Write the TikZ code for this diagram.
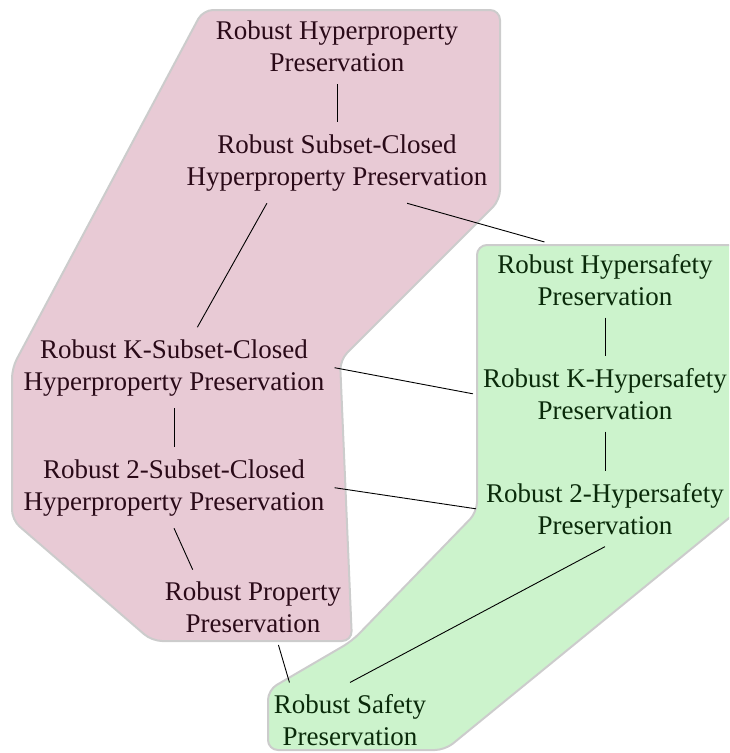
\documentclass[tikz,border=0pt]{standalone}
\usepackage{fontspec}
\setmainfont{Liberation Serif}
\definecolor{pinkfill}{HTML}{E8CAD5}
\definecolor{greenfill}{HTML}{CCF3CC}
\definecolor{hullline}{HTML}{CCCCCC}
\definecolor{pinktext}{HTML}{2A0A18}
\definecolor{greentext}{HTML}{0A2A0A}
\tikzset{
  hull/.style={draw=hullline, line width=2pt, rounded corners=10pt},
  prop/.style={align=center, inner xsep=10pt, inner ysep=12pt,
    font=\fontsize{27}{32}\selectfont},
  pnode/.style={prop, text=pinktext},
  gnode/.style={prop, text=greentext},
  link/.style={draw=black, line width=0.9pt}
}
\begin{document}
\begin{tikzpicture}[x=1pt,y=-1pt]
\useasboundingbox (0,0) rectangle (729,753);
\begin{scope}
\clip (0,0) rectangle (729,753);
\path[hull, fill=pinkfill] (203,10) -- (500,10) -- (500,200) -- (340,360) -- (352,641) -- (152,641) -- (12,520) -- (12,368) -- cycle;
\path[hull, fill=greenfill] (477,245) -- (745,245) -- (745,505) -- (445,750) -- (268,750) -- (268,690) -- (352,641) -- (477,512) -- cycle;
\end{scope}

\node[pnode] (A) at (337,46.3) {Robust Hyperproperty\\Preservation};
\node[pnode] (B) at (337,162.8) {Robust Subset-Closed\\Hyperproperty Preservation};
\node[pnode] (C) at (174,367.7) {Robust K-Subset-Closed\\Hyperproperty Preservation};
\node[pnode] (D) at (174,487.7) {Robust 2-Subset-Closed\\Hyperproperty Preservation};
\node[pnode] (E) at (253,607.3) {Robust Property\\Preservation};
\node[gnode] (F) at (605,279.8) {Robust Hypersafety\\Preservation};
\node[gnode] (G) at (605,393.8) {Robust K-Hypersafety\\Preservation};
\node[gnode] (H) at (605,508.8) {Robust 2-Hypersafety\\Preservation};
\node[gnode] (I) at (350,720.3) {Robust Safety\\Preservation};

\draw[link] (A.south) -- (B.north);
\draw[link] (B.210) -- (C.60);
\draw[link] (B.330) -- (F.148);
\draw[link] (C.south) -- (D.north);
\draw[link] (C.east) -- (G.west);
\draw[link] (D.south) -- (E.148);
\draw[link] (D.east) -- (H.west);
\draw[link] (E.304) -- (I.148);
\draw[link] (F.south) -- (G.north);
\draw[link] (G.south) -- (H.north);
\draw[link] (H.south) -- (I.north);
\end{tikzpicture}
\end{document}
